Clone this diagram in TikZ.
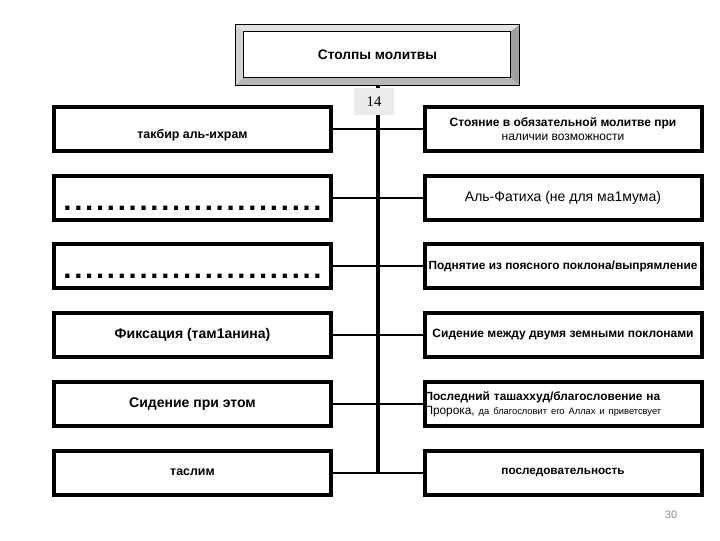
\documentclass[tikz,border=0pt]{standalone}
\usepackage{fontspec}
\setmainfont{Liberation Sans}
\newfontfamily\numfont{Liberation Serif}
\usetikzlibrary{positioning, calc}
\definecolor{BevelTop}{RGB}{226,226,226}
\definecolor{BevelLeft}{RGB}{208,208,208}
\definecolor{BevelRight}{RGB}{160,160,160}
\definecolor{BevelBottom}{RGB}{182,182,182}
\definecolor{NumGray}{RGB}{235,235,235}
\definecolor{PageGray}{RGB}{140,140,140}
\newcommand{\dotline}{\raisebox{-9.4pt}[0pt][0pt]{\fontsize{22pt}{22pt}\selectfont\bfseries
	\hbox to 195.6pt{\xleaders\hbox to 8.15pt{\hss.\hss}\hfill}}}

\begin{document}
\begin{tikzpicture}[x=0.75pt, y=-0.75pt,
	rowbox/.style={draw, line width=3pt, fill=white, minimum width=207.75pt,
		minimum height=33pt, inner sep=0pt, align=center},
	link/.style={line width=1.5pt},
	spine/.style={line width=3pt}]
	\useasboundingbox (0,0) rectangle (720,540);

	% заголовок с рамкой
	\node[minimum width=212.25pt, minimum height=45pt] (title) at (377.5,55) {};
	\coordinate (iNW) at ($(title.north west)+(8,7)$);
	\coordinate (iNE) at ($(title.north east)+(-9,7)$);
	\coordinate (iSE) at ($(title.south east)+(-9,-8)$);
	\coordinate (iSW) at ($(title.south west)+(8,-8)$);
	\fill[BevelTop] (title.north west) -- (title.north east) -- (iNE) -- (iNW) -- cycle;
	\fill[BevelLeft] (title.north west) -- (iNW) -- (iSW) -- (title.south west) -- cycle;
	\fill[BevelRight] (title.north east) -- (title.south east) -- (iSE) -- (iNE) -- cycle;
	\fill[BevelBottom] (title.south west) -- (iSW) -- (iSE) -- (title.south east) -- cycle;
	\draw[line width=0.8pt] (title.north west) rectangle (title.south east);
	\draw[line width=0.5pt, fill=white] (iNW) rectangle (iSE);
	\node[font=\fontsize{10.3pt}{12pt}\selectfont\bfseries] (titletext) at (title.center)
		{Столпы молитвы};

	\node[fill=NumGray, minimum width=30pt, minimum height=20.25pt, inner sep=0pt,
		font=\numfont\fontsize{11pt}{13pt}\selectfont] (num) at (374,101.5) {14};

	% левый столбец
	\node[rowbox, font=\fontsize{9.3pt}{11pt}\selectfont\bfseries] (l1) at (192.5,129)
		{\raisebox{-6.75pt}[0pt][0pt]{такбир аль-ихрам}};
	\node[rowbox] (l2) at (192.5,197.5) {\dotline};
	\node[rowbox] (l3) at (192.5,266) {\dotline};
	\node[rowbox, font=\fontsize{10.5pt}{12pt}\selectfont\bfseries] (l4) at (192.5,335)
		{Фиксация (там1анина)};
	\node[rowbox, font=\fontsize{10.5pt}{12pt}\selectfont\bfseries] (l5) at (192.5,404)
		{Сидение при этом};
	\node[rowbox, font=\fontsize{9.3pt}{11pt}\selectfont\bfseries] (l6) at (192.5,472.5)
		{таслим};

	% правый столбец
	\node[rowbox, font=\fontsize{9pt}{10.5pt}\selectfont] (r1) at (563,129)
		{\textbf{Стояние в обязательной молитве при}\\наличии возможности};
	\node[rowbox, font=\fontsize{10.5pt}{12pt}\selectfont] (r2) at (563,197.5)
		{Аль-Фатиха (не для ма1мума)};
	\node[rowbox, font=\fontsize{8.9pt}{10pt}\selectfont\bfseries] (r3) at (563,266)
		{Поднятие из поясного поклона/выпрямление};
	\node[rowbox, font=\fontsize{9pt}{10pt}\selectfont\bfseries] (r4) at (563,335)
		{Сидение между двумя земными поклонами};
	\node[rowbox, text width=207.75pt, align=left, font=\fontsize{8.9pt}{10.5pt}\selectfont]
		(r5) at (563,404)
		{\textbf{Последний ташаххуд/благословение на}\\Пророка,
		{\fontsize{7pt}{10.5pt}\selectfont да благословит его Аллах и приветсвует}};
	\node[rowbox, font=\fontsize{8.8pt}{10pt}\selectfont\bfseries] (r6) at (563,472.5)
		{последовательность};

	% связи
	\foreach \i in {1,...,6}
		\draw[link] (l\i.east) -- (r\i.west);
	\coordinate (spineEnd) at (title.south |- r6.west);
	\draw[spine] (title.south) -- (title.south |- num.north);
	\draw[spine] (title.south |- num.south) -- (spineEnd);

	\node[text=PageGray, font=\fontsize{8.25pt}{10pt}\selectfont] (page) at (671,515) {30};
\end{tikzpicture}
\end{document}
